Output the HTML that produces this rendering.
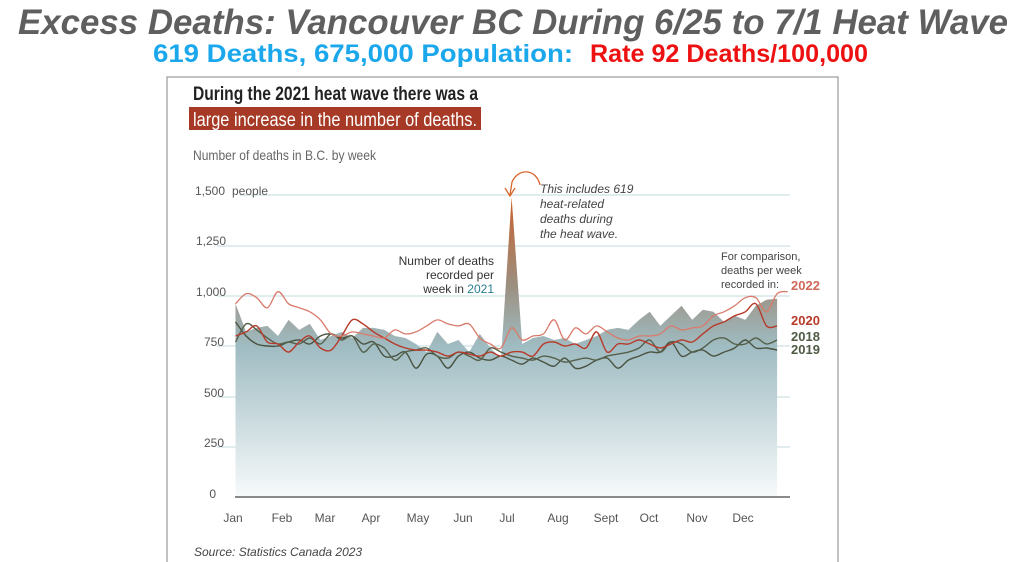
<!DOCTYPE html>
<html><head><meta charset="utf-8"><style>
html,body{margin:0;padding:0;background:#fff;width:1024px;height:562px;overflow:hidden}
svg{display:block}
.t{font-family:"Liberation Sans",sans-serif}
.n{font-family:"Liberation Sans Narrow","Liberation Sans",sans-serif}
</style></head><body>
<svg id="s" width="1024" height="562" viewBox="0 0 1024 562" xmlns="http://www.w3.org/2000/svg">
<defs>
<linearGradient id="g" gradientUnits="userSpaceOnUse" x1="0" y1="195" x2="0" y2="497">
<stop offset="0" stop-color="#c8602a"/>
<stop offset="0.3" stop-color="#9c8f80"/>
<stop offset="0.5" stop-color="#9fbcc2"/>
<stop offset="1" stop-color="#f7fafb"/>
</linearGradient>
</defs>
<text class="t" x="18" y="34" font-size="35" font-weight="bold" font-style="italic" fill="#5f5f5f" textLength="990" lengthAdjust="spacingAndGlyphs">Excess Deaths: Vancouver  BC During 6/25 to 7/1 Heat Wave</text>
<text class="n" x="153" y="62" font-size="25" font-weight="bold" fill="#1aa7ec" textLength="420" lengthAdjust="spacingAndGlyphs">619 Deaths,   675,000 Population:</text>
<text class="n" x="590" y="62" font-size="25" font-weight="bold" fill="#ee1111" textLength="278" lengthAdjust="spacingAndGlyphs">Rate 92 Deaths/100,000</text>
<rect x="167" y="77" width="671" height="490" fill="none" stroke="#9a9a9a" stroke-width="1.2"/>
<text class="n" x="193" y="100" font-size="19" font-weight="bold" fill="#222" textLength="285" lengthAdjust="spacingAndGlyphs">During the 2021 heat wave there was a</text>
<rect x="189" y="107" width="292" height="23" fill="#a63a26"/>
<text class="n" x="193" y="126" font-size="19" fill="#fff" textLength="284" lengthAdjust="spacingAndGlyphs">large increase in the number of deaths.</text>
<text class="n" x="193" y="160" font-size="14" fill="#666" textLength="183" lengthAdjust="spacingAndGlyphs">Number of deaths in B.C. by week</text>
<g id="grid" stroke="#cfe0e4" stroke-width="1.2"></g>
<g class="t" font-size="12" fill="#555">
<text x="195" y="195">1,500</text><text x="232" y="195">people</text>
<text x="226" y="245" text-anchor="end">1,250</text>
<text x="226" y="296" text-anchor="end">1,000</text>
<text x="224" y="346" text-anchor="end">750</text>
<text x="224" y="397" text-anchor="end">500</text>
<text x="224" y="447" text-anchor="end">250</text>
<text x="216" y="498" text-anchor="end">0</text>
</g>
<path id="area" fill="url(#g)"/>
<g id="lines" fill="none"></g>
<line x1="235" y1="497" x2="790" y2="497" stroke="#444" stroke-width="1.2"/>
<g class="t" font-size="12" fill="#555" text-anchor="middle">
<text x="233" y="522">Jan</text><text x="282" y="522">Feb</text><text x="325" y="522">Mar</text><text x="371" y="522">Apr</text><text x="418" y="522">May</text><text x="463" y="522">Jun</text><text x="507" y="522">Jul</text><text x="558" y="522">Aug</text><text x="606" y="522">Sept</text><text x="649" y="522">Oct</text><text x="697" y="522">Nov</text><text x="743" y="522">Dec</text>
</g>
<text class="t" x="194" y="556" font-size="12" font-style="italic" fill="#444">Source: Statistics Canada 2023</text>
<g class="t" font-size="12" font-style="italic" fill="#444">
<text x="540" y="193">This includes 619</text>
<text x="540" y="208">heat-related</text>
<text x="540" y="223">deaths during</text>
<text x="540" y="238">the heat wave.</text>
</g>
<path d="M540 185 C536 168 518 168 512 182 L510 195" fill="none" stroke="#d9652a" stroke-width="1.3"/>
<path d="M505 188 L510 196 L515 188" fill="none" stroke="#d9652a" stroke-width="1.3"/>
<g class="t" font-size="12" fill="#333" text-anchor="end">
<text x="494" y="265">Number of deaths</text>
<text x="494" y="279">recorded per</text>
<text x="494" y="293">week in <tspan fill="#2a7f91">2021</tspan></text>
</g>
<g class="t" font-size="11" fill="#444">
<text x="721" y="260">For comparison,</text>
<text x="721" y="274">deaths per week</text>
<text x="721" y="288">recorded in:</text>
</g>
<g class="t" font-size="13" font-weight="bold">
<text x="791" y="290" fill="#d0685a">2022</text>
<text x="791" y="325" fill="#b83a2a">2020</text>
<text x="791" y="341" fill="#4f5a45">2018</text>
<text x="791" y="354" fill="#4f5a45">2019</text>
</g>
</svg>
<script>
var NS="http://www.w3.org/2000/svg";
function Y(v){return 497-v*0.2013;}
function X(i){return 235.5+i*10.62;}
var grid=document.getElementById('grid');
[[240,195],[217,246],[217,296],[217,346],[217,397],[217,447]].forEach(function(a){var l=document.createElementNS(NS,'line');l.setAttribute('x1',a[0]);l.setAttribute('x2',790);l.setAttribute('y1',a[1]);l.setAttribute('y2',a[1]);grid.appendChild(l);});
function sm(vals){var p=vals.map(function(v,i){return [X(i),Y(v)];});var d='M'+p[0][0].toFixed(1)+' '+p[0][1].toFixed(1);
for(var i=0;i<p.length-1;i++){var a=p[i-1]||p[i],b=p[i],c=p[i+1],e=p[i+2]||c;
d+=' C'+(b[0]+(c[0]-a[0])/6).toFixed(1)+' '+(b[1]+(c[1]-a[1])/6).toFixed(1)+' '+(c[0]-(e[0]-b[0])/6).toFixed(1)+' '+(c[1]-(e[1]-b[1])/6).toFixed(1)+' '+c[0].toFixed(1)+' '+c[1].toFixed(1);}
return d;}
var a21=[960,820,840,850,800,880,830,860,780,800,820,790,840,840,830,800,790,760,720,820,760,780,720,810,740,690,1490,760,790,800,780,790,760,780,800,830,840,830,880,920,850,900,950,880,930,920,870,900,880,950,980,985];
var ap=a21.map(function(v,i){return [X(i),Y(v)];});
var d='M'+X(0)+' 497 L'+ap.map(function(p){return p[0].toFixed(1)+' '+p[1].toFixed(1);}).join(' L')+' L'+X(51).toFixed(1)+' 497 Z';
document.getElementById('area').setAttribute('d',d);
var L=document.getElementById('lines');
function line(vals,col,w){var p=document.createElementNS(NS,'path');p.setAttribute('d',sm(vals));p.setAttribute('stroke',col);p.setAttribute('stroke-width',w);L.appendChild(p);}
line([870,800,760,750,750,770,780,760,800,810,790,800,760,770,700,700,720,640,710,700,640,700,720,690,680,700,680,660,690,670,650,690,640,650,680,690,640,680,700,720,720,770,700,720,730,700,720,740,780,740,740,730],'#4a5240',1.4);
line([770,860,830,790,760,770,760,790,760,810,780,800,720,760,740,680,720,730,740,700,690,720,700,680,740,720,700,690,680,700,690,670,680,690,680,700,710,720,740,780,720,770,760,720,740,780,790,760,760,790,760,780],'#55604a',1.4);
line([800,820,850,770,760,720,770,800,740,730,800,880,860,820,790,760,740,730,730,720,700,720,710,700,720,700,720,720,700,760,770,750,760,740,820,720,760,760,780,760,740,760,780,770,810,850,870,900,920,960,850,850],'#b83a2a',1.4);
line([960,1010,990,940,1020,960,940,920,880,810,800,820,810,800,790,830,810,820,850,880,860,850,860,790,760,740,840,780,800,810,880,780,840,810,850,820,790,780,800,800,810,850,830,840,850,900,920,950,990,990,920,1010,1020],'#d97b6c',1.3);
</script>
</body></html>
